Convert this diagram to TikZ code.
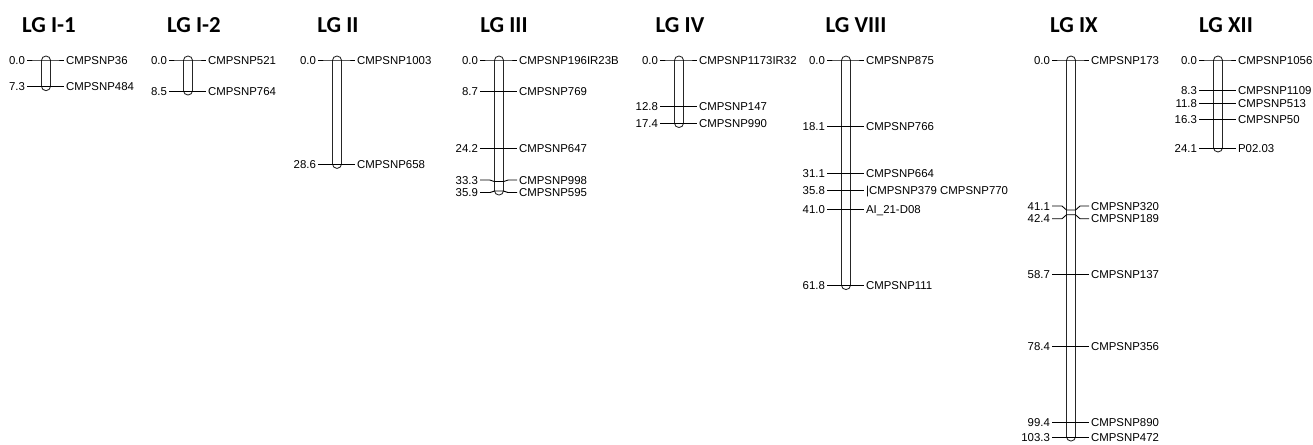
\documentclass[tikz,border=0pt]{standalone}
\usepackage{fontspec}
\setmainfont{Liberation Sans}
\newfontfamily\titlefont{Carlito}
\usepackage{tikz}
\usetikzlibrary{positioning}

\tikzset{
  lgtitle/.style={font=\titlefont\bfseries\fontsize{13}{15}\selectfont, anchor=base, inner sep=0pt},
  cmnum/.style={font=\fontsize{6.5}{7.5}\selectfont, anchor=east, inner sep=1pt,
                text height=4.7pt, text depth=0pt},
  snpname/.style={font=\fontsize{6.5}{7.5}\selectfont, anchor=west, inner sep=1pt,
                text height=4.7pt, text depth=0pt},
  chrbar/.style={draw=black!85, line width=0.5pt, rounded corners=2.5pt},
  maptick/.style={draw=black, line width=0.5pt}
}

% bar of one linkage group: centre x, length in cM
\newcommand{\lgbar}[2]{%
  \draw[chrbar] ({#1-4.5},56) rectangle ({#1+4.5},{60+3.65*#2+4});
}
% one marker: node prefix, bar x, position (cM), label shift, marker name
\newcommand{\lgmark}[5]{%
  \pgfmathsetmacro{\ty}{60+3.65*#3}
  \pgfmathsetmacro{\ly}{\ty+#4}
  \node[cmnum] (#1n) at ({#2-19},\ly) {#3};
  \node[snpname] (#1m) at ({#2+18},\ly) {#5};
  \draw[maptick] (#1n.east) -- ({#2-9},\ly) -- ({#2-4.5},\ty) -- ({#2+4.5},\ty)
     -- ({#2+9},\ly) -- (#1m.west);
}

\begin{document}
\begin{tikzpicture}[x=0.02cm, y=-0.02cm]
    \useasboundingbox (0,0) rectangle (1313,444);

    % --- LG I-1 ---
    \node[lgtitle] (tIa) at (49,32) {LG I-1};
    \lgbar{46}{7.3}
    \foreach \nm/\pos/\dy/\snp in {a/0.0/0/CMPSNP36, b/7.3/0/CMPSNP484}
      {\lgmark{Ia\nm}{46}{\pos}{\dy}{\snp}}

    % --- LG I-2 ---
    \node[lgtitle] (tIb) at (194,32) {LG I-2};
    \lgbar{188}{8.5}
    \foreach \nm/\pos/\dy/\snp in {a/0.0/0/CMPSNP521, b/8.5/0/CMPSNP764}
      {\lgmark{Ib\nm}{188}{\pos}{\dy}{\snp}}

    % --- LG II ---
    \node[lgtitle] (tII) at (338,32) {LG II};
    \lgbar{337}{28.6}
    \foreach \nm/\pos/\dy/\snp in {a/0.0/0/CMPSNP1003, b/28.6/0/CMPSNP658}
      {\lgmark{II\nm}{337}{\pos}{\dy}{\snp}}

    % --- LG III ---
    \node[lgtitle] (tIII) at (504,32) {LG III};
    \lgbar{499}{35.9}
    \foreach \nm/\pos/\dy/\snp in {a/0.0/0/CMPSNP196IR23B, b/8.7/0/CMPSNP769,
        c/24.2/0/CMPSNP647, d/33.3/-1.5/CMPSNP998, e/35.9/1.5/CMPSNP595}
      {\lgmark{III\nm}{499}{\pos}{\dy}{\snp}}

    % --- LG IV ---
    \node[lgtitle] (tIV) at (680,32) {LG IV};
    \lgbar{679}{17.4}
    \foreach \nm/\pos/\dy/\snp in {a/0.0/0/CMPSNP1173IR32, b/12.8/0/CMPSNP147,
        c/17.4/0/CMPSNP990}
      {\lgmark{IV\nm}{679}{\pos}{\dy}{\snp}}

    % --- LG VIII ---
    \node[lgtitle] (tVIII) at (856,32) {LG VIII};
    \lgbar{846}{61.8}
    \foreach \nm/\pos/\dy/\snp in {a/0.0/0/CMPSNP875, b/18.1/0/CMPSNP766,
        c/31.1/0/CMPSNP664, d/35.8/0/{\textbar CMPSNP379 CMPSNP770},
        e/41.0/0/AI\_21-D08, f/61.8/0/CMPSNP111}
      {\lgmark{VIII\nm}{846}{\pos}{\dy}{\snp}}

    % --- LG IX ---
    \node[lgtitle] (tIX) at (1074,32) {LG IX};
    \lgbar{1071}{103.3}
    \foreach \nm/\pos/\dy/\snp in {a/0.0/0/CMPSNP173, b/41.1/-4/CMPSNP320,
        c/42.4/4/CMPSNP189, d/58.7/0/CMPSNP137, e/78.4/0/CMPSNP356,
        f/99.4/0/CMPSNP890, g/103.3/0/CMPSNP472}
      {\lgmark{IX\nm}{1071}{\pos}{\dy}{\snp}}

    % --- LG XII ---
    \node[lgtitle] (tXII) at (1226,32) {LG XII};
    \lgbar{1218}{24.1}
    \foreach \nm/\pos/\dy/\snp in {a/0.0/0/CMPSNP1056, b/8.3/0/CMPSNP1109,
        c/11.8/0/CMPSNP513, d/16.3/0/CMPSNP50, e/24.1/0/P02.03}
      {\lgmark{XII\nm}{1218}{\pos}{\dy}{\snp}}
\end{tikzpicture}
\end{document}
